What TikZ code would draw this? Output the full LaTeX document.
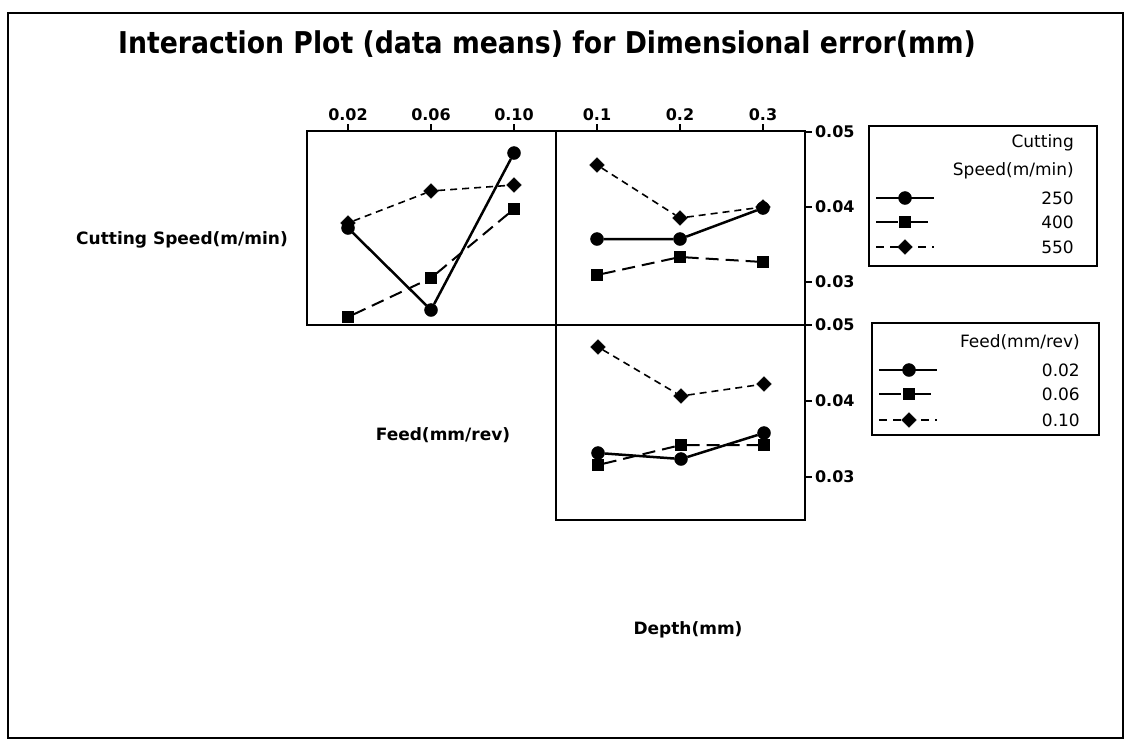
\documentclass[tikz,border=0pt]{standalone}
\usepackage{fontspec}
\setmainfont{DejaVu Sans}
\newfontfamily\titlefont{DejaVu Sans}[FakeStretch=0.89]
\usetikzlibrary{shapes.geometric}

\begin{document}
\begin{tikzpicture}[x=1pt,y=-1pt,
  dot/.style={draw,circle,fill,inner sep=0pt,minimum size=13pt},
  sq/.style={draw,rectangle,fill,inner sep=0pt,minimum size=11pt},
  dia/.style={draw,diamond,fill,inner sep=0pt,minimum size=15pt},
  solidln/.style={line width=2.5pt},
  longdash/.style={line width=2pt,dash pattern=on 13pt off 7pt},
  shortdash/.style={line width=1.6pt,dash pattern=on 7pt off 5pt},
  frame/.style={line width=2.2pt},
  ticklab/.style={font=\fontsize{16}{19}\selectfont\bfseries,inner sep=2pt},
  factor/.style={font=\fontsize{17}{20}\selectfont\bfseries},
  legtext/.style={font=\fontsize{17}{20}\selectfont,anchor=east,inner sep=0pt}]
\useasboundingbox (0,0) rectangle (1132,742);
\fill[white] (0,0) rectangle (1132,742);
\draw[frame] (8,13) rectangle (1123,738);

\node[font=\titlefont\fontsize{30}{36}\selectfont\bfseries] (title) at (547,44) {Interaction Plot (data means) for Dimensional error(mm)};

% factor names
\node[factor] (speed) at (182,240) {Cutting Speed(m/min)};
\node[factor] (feed) at (443,435) {Feed(mm/rev)};
\node[factor] (depth) at (688,630) {Depth(mm)};

% panels
\draw[frame] (307,131) rectangle (556,325);
\draw[frame] (556,131) rectangle (805,325);
\draw[frame] (556,325) rectangle (805,520);

% top axis
\draw[frame] (348,131) -- (348,124) node[above,ticklab] {0.02};
\draw[frame] (431,131) -- (431,124) node[above,ticklab] {0.06};
\draw[frame] (514,131) -- (514,124) node[above,ticklab] {0.10};
\draw[frame] (597,131) -- (597,124) node[above,ticklab] {0.1};
\draw[frame] (680,131) -- (680,124) node[above,ticklab] {0.2};
\draw[frame] (763,131) -- (763,124) node[above,ticklab] {0.3};

% right axis
\draw[frame] (805,132) -- (812,132) node[right,ticklab] {0.05};
\draw[frame] (805,207) -- (812,207) node[right,ticklab] {0.04};
\draw[frame] (805,282) -- (812,282) node[right,ticklab] {0.03};
\draw[frame] (805,325) -- (812,325) node[right,ticklab] {0.05};
\draw[frame] (805,401) -- (812,401) node[right,ticklab] {0.04};
\draw[frame] (805,477) -- (812,477) node[right,ticklab] {0.03};

% speed x feed
\node[dot] (c1a) at (348,228) {};
\node[dot] (c1b) at (431,310) {};
\node[dot] (c1c) at (514,153) {};
\node[sq] (q1a) at (348,317) {};
\node[sq] (q1b) at (431,278) {};
\node[sq] (q1c) at (514,209) {};
\node[dia] (d1a) at (348,223) {};
\node[dia] (d1b) at (431,191) {};
\node[dia] (d1c) at (514,185) {};
\draw[solidln] (c1a) -- (c1b) -- (c1c);
\draw[longdash] (q1a) -- (q1b) -- (q1c);
\draw[shortdash] (d1a) -- (d1b) -- (d1c);

% speed x depth
\node[dot] (c2a) at (597,239) {};
\node[dot] (c2b) at (680,239) {};
\node[dot] (c2c) at (763,208) {};
\node[sq] (q2a) at (597,275) {};
\node[sq] (q2b) at (680,257) {};
\node[sq] (q2c) at (763,262) {};
\node[dia] (d2a) at (597,165) {};
\node[dia] (d2b) at (680,218) {};
\node[dia] (d2c) at (763,207) {};
\draw[solidln] (c2a) -- (c2b) -- (c2c);
\draw[longdash] (q2a) -- (q2b) -- (q2c);
\draw[shortdash] (d2a) -- (d2b) -- (d2c);

% feed x depth
\node[dot] (c3a) at (598,453) {};
\node[dot] (c3b) at (681,459) {};
\node[dot] (c3c) at (764,433) {};
\node[sq] (q3a) at (598,465) {};
\node[sq] (q3b) at (681,445) {};
\node[sq] (q3c) at (764,445) {};
\node[dia] (d3a) at (598,347) {};
\node[dia] (d3b) at (681,396) {};
\node[dia] (d3c) at (764,384) {};
\draw[solidln] (c3a) -- (c3b) -- (c3c);
\draw[longdash] (q3a) -- (q3b) -- (q3c);
\draw[shortdash] (d3a) -- (d3b) -- (d3c);

% legend speed
\draw[frame] (869,126) rectangle (1097,266);
\node[legtext] (leg1t) at (1074,143) {Cutting};
\node[legtext] (leg1s) at (1074,171) {Speed(m/min)};
\coordinate (l1a) at (876,198); \coordinate (l1b) at (934,198);
\coordinate (l2a) at (876,222); \coordinate (l2b) at (934,222);
\coordinate (l3a) at (876,247); \coordinate (l3b) at (934,247);
\draw[solidln] (l1a) -- (l1b);
\draw[longdash,dash pattern=on 22pt off 8pt] (l2a) -- (l2b);
\draw[shortdash,dash pattern=on 8pt off 6pt] (l3a) -- (l3b);
\node[dot] (m1) at (905,198) {};
\node[sq] (m2) at (905,222) {};
\node[dia] (m3) at (905,247) {};
\node[legtext] (v1) at (1074,198) {250};
\node[legtext] (v2) at (1074,222) {400};
\node[legtext] (v3) at (1074,247) {550};

% legend feed
\draw[frame] (872,323) rectangle (1099,435);
\node[legtext] (leg2t) at (1080,342) {Feed(mm/rev)};
\coordinate (l4a) at (879,370); \coordinate (l4b) at (937,370);
\coordinate (l5a) at (879,394); \coordinate (l5b) at (937,394);
\coordinate (l6a) at (879,420); \coordinate (l6b) at (937,420);
\draw[solidln] (l4a) -- (l4b);
\draw[longdash,dash pattern=on 22pt off 8pt] (l5a) -- (l5b);
\draw[shortdash,dash pattern=on 8pt off 6pt] (l6a) -- (l6b);
\node[dot] (m4) at (909,370) {};
\node[sq] (m5) at (909,394) {};
\node[dia] (m6) at (909,420) {};
\node[legtext] (v4) at (1080,370) {0.02};
\node[legtext] (v5) at (1080,394) {0.06};
\node[legtext] (v6) at (1080,420) {0.10};
\end{tikzpicture}
\end{document}
